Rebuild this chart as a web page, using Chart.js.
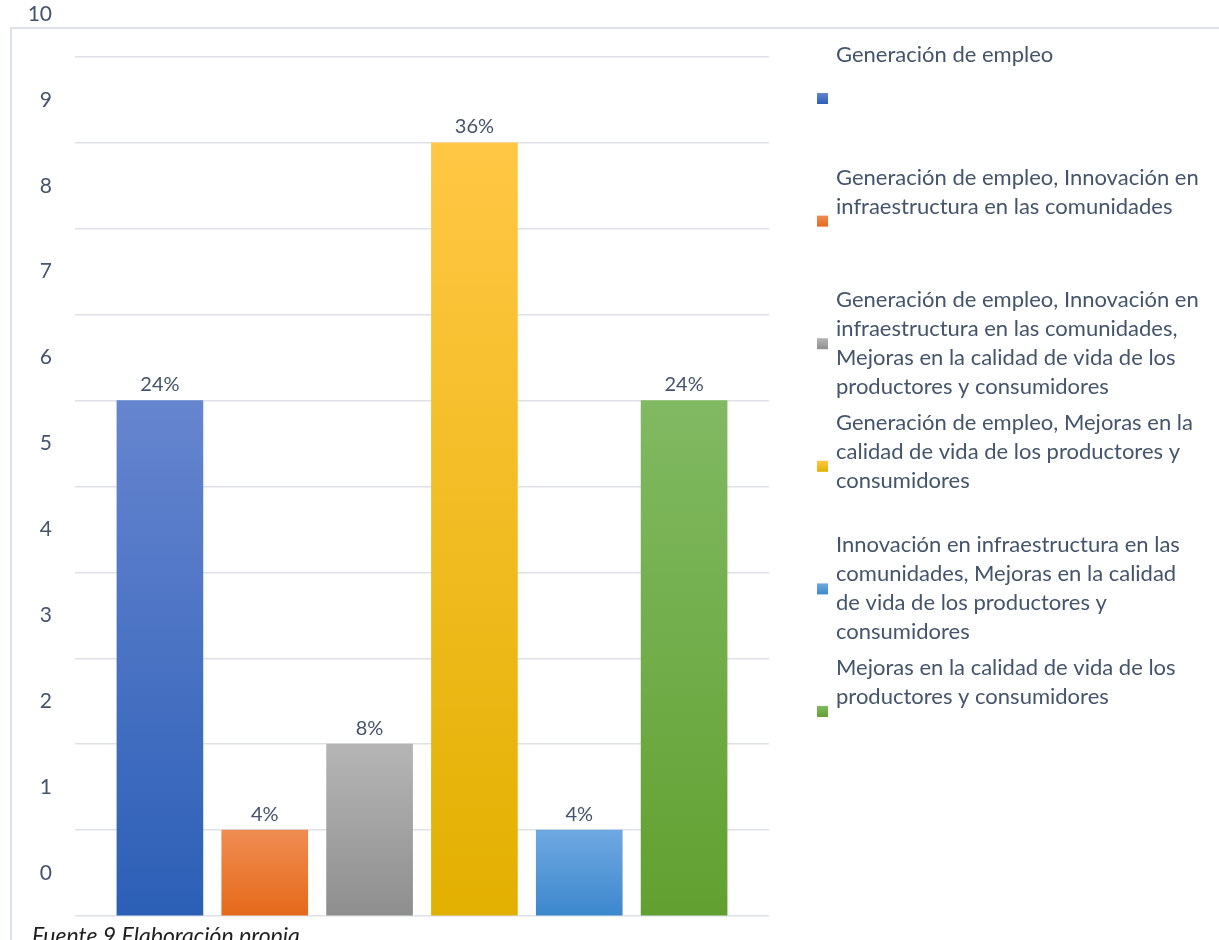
<!DOCTYPE html>
<html lang="es">
<head>
<meta charset="utf-8">
<title>Beneficios percibidos</title>
<script src="https://cdn.jsdelivr.net/npm/chart.js@4.4.1/dist/chart.umd.min.js"></script>
<style>
  body { margin: 0; background: #ffffff; overflow: hidden; }
  #wrap { position: relative; width: 1219px; height: 940px; overflow: hidden; }
  #fuente { position: absolute; left: 32px; top: 921px; font: italic 23px Lato, sans-serif; color: #1f1f1f; white-space: nowrap; }
</style>
</head>
<body>
<div id="wrap">
  <canvas id="beneficiosChart" width="1219" height="940"></canvas>
  <div id="fuente">Fuente 9 Elaboración propia</div>
</div>
<script>
// categorias (respuestas), ya partidas en líneas para la leyenda
const categorias = [
    ["Generación de empleo"],
    ["Generación de empleo, Innovación en", "infraestructura en las comunidades"],
    ["Generación de empleo, Innovación en", "infraestructura en las comunidades,", "Mejoras en la calidad de vida de los", "productores y consumidores"],
    ["Generación de empleo, Mejoras en la", "calidad de vida de los productores y", "consumidores"],
    ["Innovación en infraestructura en las", "comunidades, Mejoras en la calidad", "de vida de los productores y", "consumidores"],
    ["Mejoras en la calidad de vida de los", "productores y consumidores"]
];
// número de menciones por categoría
const valores = [6, 1, 2, 9, 1, 6];
const ejeY = { min: 0, max: 10, paso: 1 };

// colores de degradado (arriba, abajo) por barra
const coloresArriba = ["#6685cf", "#ef8c52", "#b5b5b5", "#ffc744", "#6fa8e1", "#80b962"];
const coloresAbajo  = ["#2b5fb6", "#e5691a", "#8e8e8e", "#e2b000", "#3c88cd", "#61a030"];

const colorTexto = "#44546a";
const fuente = "Lato, 'Noto Sans', sans-serif";
const total = valores.reduce((a, b) => a + b, 0);

function degradado(ctx, top, bottom, i) {
    const g = ctx.createLinearGradient(0, top, 0, bottom);
    g.addColorStop(0, coloresArriba[i]);
    g.addColorStop(0.5, Chart.helpers.color(coloresArriba[i]).mix(Chart.helpers.color(coloresAbajo[i]), 0.5).hexString());
    g.addColorStop(1, coloresAbajo[i]);
    return g;
}

// marco gris superior e izquierdo
const marco = {
    id: "marco",
    beforeDraw(chart) {
        const ctx = chart.ctx;
        ctx.save();
        ctx.strokeStyle = "#dde1e8";
        ctx.lineWidth = 2;
        ctx.beginPath();
        ctx.moveTo(11, chart.height);
        ctx.lineTo(11, 28);
        ctx.lineTo(chart.width, 28);
        ctx.stroke();
        ctx.restore();
    }
};

// porcentajes encima de cada barra
const etiquetas = {
    id: "etiquetas",
    afterDatasetsDraw(chart) {
        const ctx = chart.ctx;
        const meta = chart.getDatasetMeta(0);
        ctx.save();
        ctx.font = "20px " + fuente;
        ctx.fillStyle = colorTexto;
        ctx.textAlign = "center";
        ctx.textBaseline = "middle";
        meta.data.forEach((bar, i) => {
            const pct = Math.round(valores[i] / total * 100) + "%";
            ctx.fillText(pct, bar.x, bar.y - 16);
        });
        ctx.restore();
    }
};

// leyenda a la derecha: texto arriba de cada hueco, marca al centro
const leyenda = {
    id: "leyenda",
    afterDraw(chart) {
        const ctx = chart.ctx;
        const xTexto = 836, xMarca = 817, lado = 11;
        const inicio = 55, separacion = 122.6, alto = 29;
        ctx.save();
        ctx.font = "22px " + fuente;
        ctx.textAlign = "left";
        ctx.textBaseline = "middle";
        categorias.forEach((lineas, i) => {
            const y0 = inicio + i * separacion;
            ctx.fillStyle = colorTexto;
            lineas.forEach((linea, j) => ctx.fillText(linea, xTexto, y0 + j * alto));
            const ym = y0 + 1.5 * alto;
            ctx.fillStyle = degradado(ctx, ym - lado / 2, ym + lado / 2, i);
            ctx.fillRect(xMarca, ym - lado / 2, lado, lado);
        });
        ctx.restore();
    }
};

const ctx = document.getElementById("beneficiosChart").getContext("2d");
new Chart(ctx, {
    type: "bar",
    data: {
        labels: categorias.map(c => c.join(" ")),
        datasets: [{
            data: valores.map((v, i) => ({ x: i, y: v })),
            backgroundColor: c => {
                const { chartArea, scales } = c.chart;
                if (!chartArea || c.dataIndex === undefined) return coloresArriba[c.dataIndex || 0];
                const top = scales.y.getPixelForValue(valores[c.dataIndex]);
                const bottom = scales.y.getPixelForValue(0);
                return degradado(c.chart.ctx, top, bottom, c.dataIndex);
            },
            borderWidth: 0,
            barThickness: 86
        }]
    },
    options: {
        responsive: false,
        animation: false,
        layout: { padding: { left: 0, right: 450, top: 57, bottom: 24 } },
        scales: {
            x: {
                type: "linear",
                min: -0.81,
                max: valores.length - 1 + 0.81,
                offset: false,
                display: false
            },
            y: {
                min: ejeY.min,
                max: ejeY.max,
                afterFit(scale) {
                    // ancho fijo y sin relleno extra por las etiquetas desplazadas
                    scale.width = 75;
                    scale.paddingTop = 0;
                    scale.paddingBottom = 0;
                },
                border: { display: false },
                grid: { color: "#dde1e8", lineWidth: 1.5, drawTicks: false },
                ticks: {
                    stepSize: ejeY.paso,
                    color: colorTexto,
                    font: { family: fuente, size: 21 },
                    padding: 23,
                    labelOffset: -43
                }
            }
        },
        plugins: {
            legend: { display: false },
            tooltip: { enabled: false }
        }
    },
    plugins: [marco, etiquetas, leyenda]
});
</script>
</body>
</html>
